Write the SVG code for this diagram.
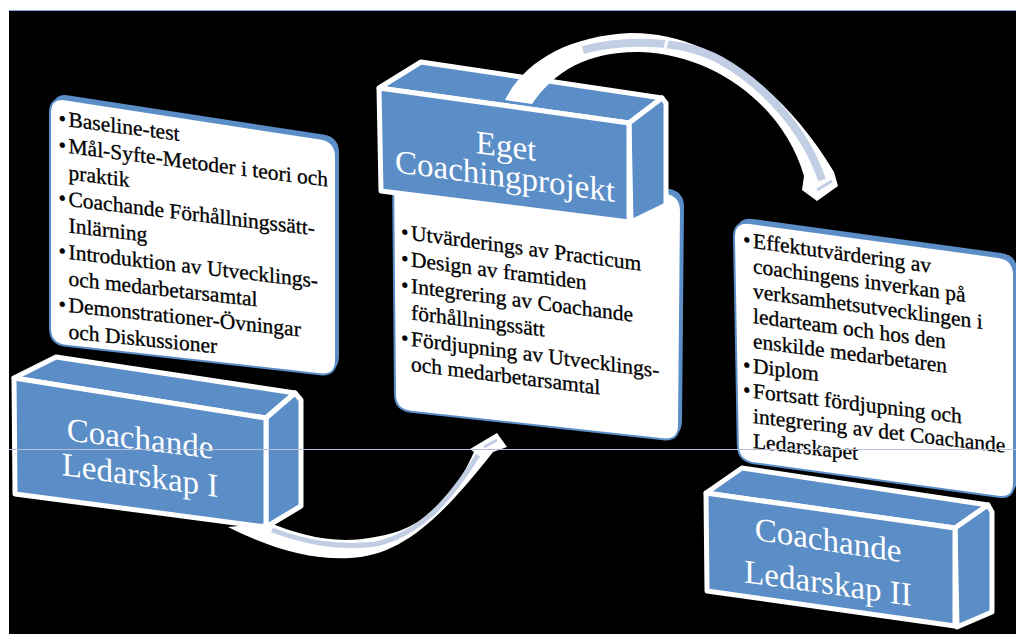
<svg xmlns="http://www.w3.org/2000/svg" width="1016" height="634" viewBox="0 0 1016 634">
<defs>
<style>
.box{fill:#5B8EC7;stroke:#fff;stroke-width:5;stroke-linejoin:round}
.lbl{font-family:"Liberation Serif","Times New Roman",serif;font-size:33px;fill:#fff;text-anchor:middle}
.li{font-family:"Liberation Serif","Times New Roman",serif;font-size:21.5px;fill:#000;stroke:#000;stroke-width:0.3}
.cardback{fill:#5B8EC7}
.card{fill:#fff;stroke:#5B8EC7;stroke-width:2}
.band{fill:#fff}
.strip{fill:none;stroke:#C2CEE4;stroke-linecap:butt}
</style>
</defs>
<rect x="0" y="0" width="1016" height="634" fill="#fff"/>
<rect x="9" y="10" width="1007" height="624" fill="#000"/>
<line x1="9" y1="10.5" x2="1016" y2="10.5" stroke="#7F9ED8" stroke-width="1"/>

<g id="list-1">
<path class="cardback" transform="translate(3,-4)" d="M 50,113 Q 50,97 65.8,99.4 L 320.2,138.6 Q 336,141 336,157 L 336,360 Q 336,376 320.1,374.2 L 65.9,345.8 Q 50,344 50,328 Z"/>
<path class="card" d="M 50,113 Q 50,97 65.8,99.4 L 320.2,138.6 Q 336,141 336,157 L 336,360 Q 336,376 320.1,374.2 L 65.9,345.8 Q 50,344 50,328 Z"/>
<text class="li" transform="translate(68.5,126.5) skewY(7.4)"><tspan x="-10">•</tspan><tspan x="0">Baseline-test</tspan></text>
<text class="li" transform="translate(68.5,153) skewY(7.4)"><tspan x="-10">•</tspan><tspan x="0">Mål-Syfte-Metoder i teori och</tspan></text>
<text class="li" transform="translate(68.5,179.5) skewY(7.1)">praktik</text>
<text class="li" transform="translate(68.5,206) skewY(6.8)"><tspan x="-10">•</tspan><tspan x="0">Coachande Förhållningssätt-</tspan></text>
<text class="li" transform="translate(68.5,232.5) skewY(6.8)">Inlärning</text>
<text class="li" transform="translate(68.5,259) skewY(6.6)"><tspan x="-10">•</tspan><tspan x="0">Introduktion av Utvecklings-</tspan></text>
<text class="li" transform="translate(68.5,285.5) skewY(6.3)">och medarbetarsamtal</text>
<text class="li" transform="translate(68.5,312) skewY(6.0)"><tspan x="-10">•</tspan><tspan x="0">Demonstrationer-Övningar</tspan></text>
<text class="li" transform="translate(68.5,338.5) skewY(5.7)">och Diskussioner</text>
</g>

<g id="box-1">
<polygon class="box" points="14,378 56,357 295,393 266,418"/>
<polygon class="box" points="266,418 295,393 301,400 301,506 266,527"/>
<polygon class="box" points="14,378 266,418 266,527 15,494"/>
<text class="lbl" transform="translate(140,449.5) skewY(7.2)">Coachande</text>
<text class="lbl" transform="translate(140,486) skewY(8)">Ledarskap I</text>
</g>

<g id="list-2">
<path class="cardback" transform="translate(3,-4)" d="M 393,171 Q 393,155 408.8,157.2 L 665.2,192.8 Q 681,195 681,211 L 679,425 Q 679,441 663.1,439.3 L 410.9,411.7 Q 395,410 395,394 Z"/>
<path class="card" d="M 393,171 Q 393,155 408.8,157.2 L 665.2,192.8 Q 681,195 681,211 L 679,425 Q 679,441 663.1,439.3 L 410.9,411.7 Q 395,410 395,394 Z"/>
<text class="li" transform="translate(411,240) skewY(7.6)"><tspan x="-10">•</tspan><tspan x="0">Utvärderings av Practicum</tspan></text>
<text class="li" transform="translate(411,266.5) skewY(7.5)"><tspan x="-10">•</tspan><tspan x="0">Design av framtiden</tspan></text>
<text class="li" transform="translate(411,293) skewY(7.4)"><tspan x="-10">•</tspan><tspan x="0">Integrering av Coachande</tspan></text>
<text class="li" transform="translate(411,319.5) skewY(7.3)">förhållningssätt</text>
<text class="li" transform="translate(411,346) skewY(7.2)"><tspan x="-10">•</tspan><tspan x="0">Fördjupning av Utvecklings-</tspan></text>
<text class="li" transform="translate(411,371) skewY(7.1)">och medarbetarsamtal</text>
</g>

<g id="box-2">
<polygon class="box" points="379,88 421,62 662,98 629,123"/>
<polygon class="box" points="629,123 662,98 666,103 666,205 631,222"/>
<polygon class="box" points="379,88 629,123 629,222 381,191"/>
<text class="lbl" transform="translate(506,157) skewY(7.7)">Eget</text>
<text class="lbl" transform="translate(505,187) skewY(7.7)">Coachingprojekt</text>
</g>

<g id="box-3">
<polygon class="box" points="706,493 742,468 988,505 955,528"/>
<polygon class="box" points="955,528 988,505 992,512 992,612 957,627"/>
<polygon class="box" points="706,493 955,528 955,626 707,591"/>
<text class="lbl" transform="translate(828,551) skewY(8.8)">Coachande</text>
<text class="lbl" transform="translate(828,594) skewY(8)">Ledarskap II</text>
</g>

<g id="list-3">
<path class="cardback" transform="translate(3,-4)" d="M 734,237 Q 734,221 749.9,223.1 L 998.1,256.9 Q 1014,259 1014,275 L 1014,483 Q 1014,499 998.1,496.8 L 753.9,463.2 Q 738,461 737.8,445 Z"/>
<path class="card" d="M 734,237 Q 734,221 749.9,223.1 L 998.1,256.9 Q 1014,259 1014,275 L 1014,483 Q 1014,499 998.1,496.8 L 753.9,463.2 Q 738,461 737.8,445 Z"/>
<text class="li" transform="translate(753,248) skewY(7.9)"><tspan x="-10">•</tspan><tspan x="0">Effektutvärdering av</tspan></text>
<text class="li" transform="translate(753,273) skewY(7.8)">coachingens inverkan på</text>
<text class="li" transform="translate(753,298) skewY(7.7)">verksamhetsutvecklingen i</text>
<text class="li" transform="translate(753,323) skewY(7.5)">ledarteam och hos den</text>
<text class="li" transform="translate(753,348) skewY(7.3)">enskilde medarbetaren</text>
<text class="li" transform="translate(753,373) skewY(7.1)"><tspan x="-10">•</tspan><tspan x="0">Diplom</tspan></text>
<text class="li" transform="translate(753,398) skewY(6.9)"><tspan x="-10">•</tspan><tspan x="0">Fortsatt fördjupning och</tspan></text>
<text class="li" transform="translate(753,423) skewY(6.7)">integrering av det Coachande</text>
<text class="li" transform="translate(753,448) skewY(6.5)">Ledarskapet</text>
</g>

<g id="connectors">
<g id="arrow-1">
<path class="band" d="M 228 527 C 270 548, 310 560, 350 558 C 400 556, 440 520, 493 452 L 507 447 L 497 433 L 470 449 L 474 452 C 455 495, 425 530, 375 537 C 335 545, 300 535, 270 523 Z"/>
<path class="strip" stroke-width="5" d="M 272 530 C 302 541, 335 549, 376 544 C 420 534, 450 500, 478 455"/>
<line x1="484" y1="447" x2="497" y2="440" stroke="#C2CEE4" stroke-width="3"/>
</g>
<g id="arrow-2">
<path class="band" d="M 505 100 C 525 60, 570 36, 630 33 C 710 32, 785 90, 834 172 L 838 186 L 817 201 L 802 190 L 804 176 C 785 110, 720 55, 640 52 C 590 51, 555 70, 532 104 Z"/>
<path class="strip" stroke-width="8" d="M 583 50 C 620 40, 680 38, 720 60 C 765 85, 805 130, 822 180"/>
<line x1="668" y1="37" x2="665" y2="48" stroke="#fff" stroke-width="3"/>
<line x1="817" y1="190" x2="832" y2="181" stroke="#C2CEE4" stroke-width="3"/>
</g>
</g>

<line x1="9" y1="449.5" x2="1016" y2="449.5" stroke="#B8BFD4" stroke-width="1"/>
</svg>
